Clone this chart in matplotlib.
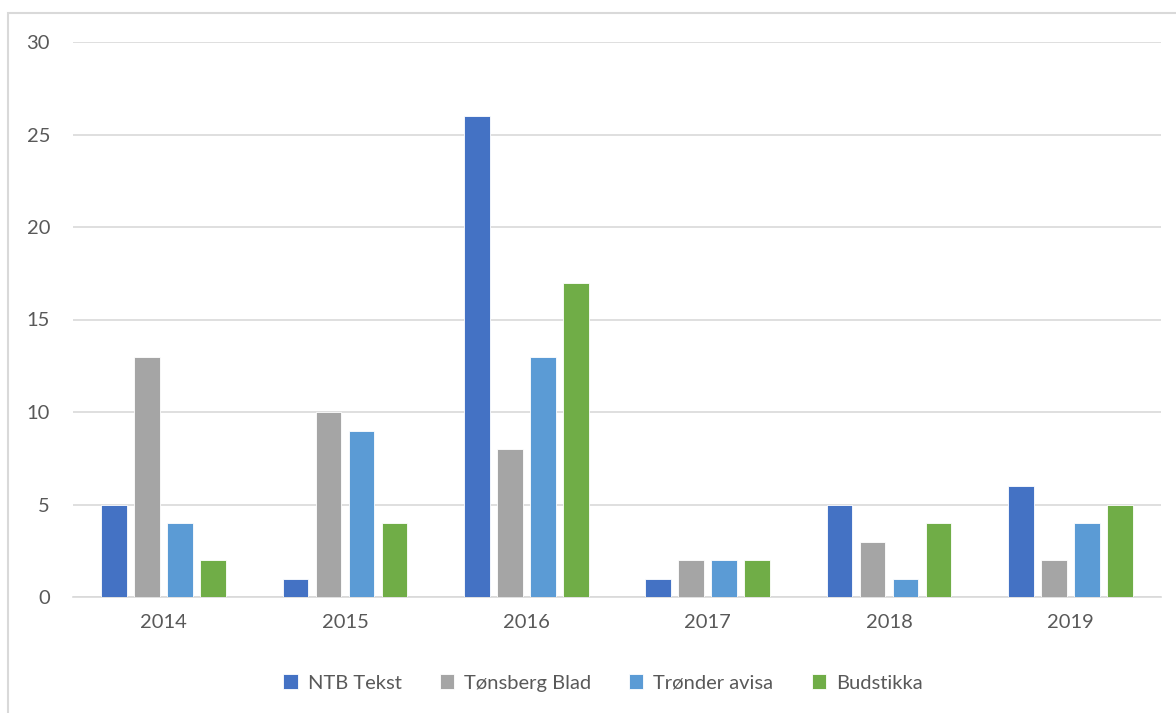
import matplotlib
matplotlib.use("Agg")
import matplotlib.pyplot as plt
import numpy as np
from matplotlib.patches import Rectangle

years = ["2014", "2015", "2016", "2017", "2018", "2019"]
series_names = ["NTB Tekst", "Tønsberg Blad", "Trønder avisa", "Budstikka"]
ntb = [5, 1, 26, 1, 5, 6]
tonsberg = [13, 10, 8, 2, 3, 2]
tronder = [4, 9, 13, 2, 1, 4]
budstikka = [2, 4, 17, 2, 4, 5]
colors = ["#4472C4", "#A5A5A5", "#5B9BD5", "#70AD47"]
yticks = [0, 5, 10, 15, 20, 25, 30]

plt.rcParams['font.family'] = ['Lato', 'DejaVu Sans']
fig = plt.figure(figsize=(11.76, 7.13), dpi=100)
ax = fig.add_axes([73/1176, 1-597/713, (1161-73)/1176, (597-42)/713])

x = np.arange(len(years))
width = 0.143
step = 0.182
offsets = [-1.5*step, -0.5*step, 0.5*step, 1.5*step]
for vals, name, c, off in zip([ntb, tonsberg, tronder, budstikka], series_names, colors, offsets):
    ax.bar(x + off, vals, width, color=c, label=name, edgecolor='white', linewidth=0.6, zorder=3)

ax.set_xlim(-0.5, len(years)-0.5)
ax.set_ylim(0, 30)
ax.set_yticks(yticks)
ax.set_xticks(x)
ax.set_xticklabels(years)
ax.tick_params(axis='both', length=0, labelsize=14.5, colors='#595959')
ax.tick_params(axis='y', pad=16.5)
ax.tick_params(axis='x', pad=12)
ax.grid(axis='y', color='#D9D9D9', linewidth=1.2, zorder=0)
for s in ['top', 'right', 'left']:
    ax.spines[s].set_visible(False)
ax.spines['bottom'].set_color('#D9D9D9')
ax.spines['bottom'].set_linewidth(1.2)

leg = fig.legend(loc='center', bbox_to_anchor=(603/1176, 1-683/713), ncol=4, frameon=False,
                 fontsize=14.5, handlelength=0.7, handleheight=0.7, columnspacing=1.9, handletextpad=0.5)
for t in leg.get_texts():
    t.set_color('#595959')

fig.patches.append(Rectangle((8/1176, -0.1), 1.2, 1-13/713+0.1, transform=fig.transFigure,
                             fill=False, edgecolor='#D9D9D9', linewidth=1.5))

fig.savefig("out.png", dpi=100)
